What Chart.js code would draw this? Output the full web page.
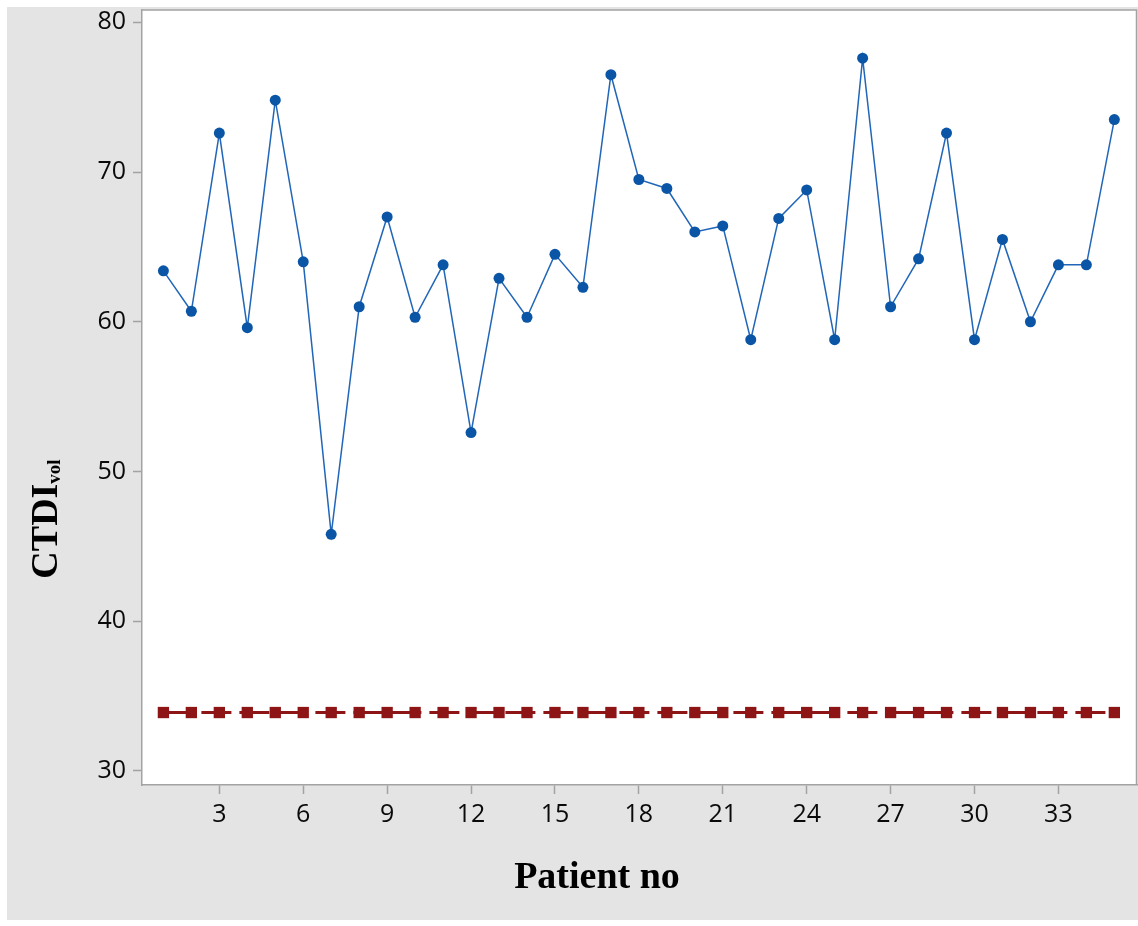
<!DOCTYPE html>
<html>
<head>
<meta charset="utf-8">
<script src="https://cdn.jsdelivr.net/npm/chart.js@4"></script>
<style>
  body { margin: 0; background: #fff; }
  canvas { display: block; }
</style>
</head>
<body>
<canvas id="ctdiChart" width="1138" height="926"></canvas>
<script>
const patients = [1, 2, 3, 4, 5, 6, 7, 8, 9, 10, 11, 12, 13, 14, 15, 16, 17, 18,
  19, 20, 21, 22, 23, 24, 25, 26, 27, 28, 29, 30, 31, 32, 33, 34, 35];
const ctdiVol = [63.4, 60.7, 72.6, 59.6, 74.8, 64.0, 45.8, 61.0, 67.0, 60.3,
  63.8, 52.6, 62.9, 60.3, 64.5, 62.3, 76.5, 69.5, 68.9, 66.0, 66.4, 58.8,
  66.9, 68.8, 58.8, 77.6, 61.0, 64.2, 72.6, 58.8, 65.5, 60.0, 63.8, 63.8, 73.5];
const referenceLevel = [33.9, 33.9, 33.9, 33.9, 33.9, 33.9, 33.9, 33.9, 33.9,
  33.9, 33.9, 33.9, 33.9, 33.9, 33.9, 33.9, 33.9, 33.9, 33.9, 33.9, 33.9, 33.9,
  33.9, 33.9, 33.9, 33.9, 33.9, 33.9, 33.9, 33.9, 33.9, 33.9, 33.9, 33.9, 33.9];
const xTicks = [3, 6, 9, 12, 15, 18, 21, 24, 27, 30, 33];
const yTicks = [30, 40, 50, 60, 70, 80];

const axisGray = "#a3a3a3";

// gray panel behind everything + white plot area + frame + custom axis titles
const panelPlugin = {
  id: "panel",
  beforeDraw(chart) {
    const { ctx, chartArea } = chart;
    ctx.save();
    ctx.fillStyle = "#e4e4e4";
    ctx.fillRect(7, 7, chart.width - 7, 913);
    ctx.fillStyle = "#ffffff";
    ctx.fillRect(chartArea.left, chartArea.top,
      chartArea.right - chartArea.left, chartArea.bottom - chartArea.top);
    ctx.restore();
  },
  afterDraw(chart) {
    const { ctx, chartArea } = chart;
    ctx.save();
    ctx.strokeStyle = axisGray;
    ctx.lineWidth = 1.5;
    ctx.beginPath();
    ctx.moveTo(chartArea.left, chartArea.top);
    ctx.lineTo(chartArea.right - 0.5, chartArea.top);
    ctx.lineTo(chartArea.right - 0.5, chartArea.bottom);
    ctx.stroke();

    ctx.fillStyle = "#000";
    ctx.textAlign = "center";
    ctx.textBaseline = "alphabetic";
    ctx.font = 'bold 38px "Liberation Serif"';
    ctx.fillText("Patient no", 597, 888);

    // CTDI with subscript vol, rotated
    ctx.translate(57, 519);
    ctx.rotate(-Math.PI / 2);
    ctx.textAlign = "left";
    ctx.font = 'bold 38px "Liberation Serif"';
    const w1 = ctx.measureText("CTDI").width;
    ctx.font = 'bold 19px "Liberation Serif"';
    const w2 = ctx.measureText("vol").width;
    const start = -(w1 + w2) / 2;
    ctx.font = 'bold 38px "Liberation Serif"';
    ctx.fillText("CTDI", start, 0);
    ctx.font = 'bold 19px "Liberation Serif"';
    ctx.fillText("vol", start + w1, 3);
    ctx.restore();
  },
};

function noScalePadding(scale) {
  scale.paddingTop = 0;
  scale.paddingBottom = 0;
  scale.paddingLeft = 0;
  scale.paddingRight = 0;
}

const ctx = document.getElementById("ctdiChart").getContext("2d");
const chart = new Chart(ctx, {
  type: "line",
  data: {
    datasets: [
      {
        label: "CTDIvol",
        data: patients.map((p, i) => ({ x: p, y: ctdiVol[i] })),
        borderColor: "#2166b8",
        borderWidth: 1.5,
        pointStyle: "circle",
        pointRadius: 5.5,
        pointBackgroundColor: "#0a55a5",
        pointBorderColor: "#0a55a5",
        pointBorderWidth: 0,
        tension: 0,
      },
      {
        label: "Reference",
        data: patients.map((p, i) => ({ x: p, y: referenceLevel[i] })),
        borderColor: "#8e1515",
        borderWidth: 3,
        borderDash: [30, 8],
        pointStyle: "rect",
        pointRadius: 8,
        pointBackgroundColor: "#8e1515",
        pointBorderColor: "#8e1515",
        pointBorderWidth: 0,
        tension: 0,
      },
    ],
  },
  options: {
    responsive: false,
    animation: false,
    layout: {
      autoPadding: false,
      padding: { left: 0, top: 10, right: 1, bottom: 0 },
    },
    plugins: {
      legend: { display: false },
      tooltip: { enabled: false },
    },
    scales: {
      x: {
        type: "linear",
        min: 0.235,
        max: 35.81,
        afterBuildTicks: (scale) => {
          scale.ticks = xTicks.map((v) => ({ value: v }));
        },
        afterFit: (scale) => {
          scale.height = 141;
          noScalePadding(scale);
        },
        grid: {
          display: true,
          drawOnChartArea: false,
          drawTicks: true,
          tickLength: 9,
          tickWidth: 1.5,
          tickColor: axisGray,
        },
        border: { display: true, color: axisGray, width: 1.5 },
        ticks: {
          color: "#0a0a0a",
          padding: 6,
          maxRotation: 0,
          autoSkip: false,
          font: { family: '"Open Sans"', size: 25, weight: "500" },
        },
      },
      y: {
        type: "linear",
        min: 29.06,
        max: 80.82,
        afterBuildTicks: (scale) => {
          scale.ticks = yTicks.map((v) => ({ value: v }));
        },
        afterFit: (scale) => {
          scale.width = 142;
          noScalePadding(scale);
        },
        grid: {
          display: true,
          drawOnChartArea: false,
          drawTicks: true,
          tickLength: 9,
          tickWidth: 1.5,
          tickColor: axisGray,
        },
        border: { display: true, color: axisGray, width: 1.5 },
        ticks: {
          color: "#0a0a0a",
          padding: 7,
          autoSkip: false,
          font: { family: '"Open Sans"', size: 25, weight: "500" },
        },
      },
    },
  },
  plugins: [panelPlugin],
});
</script>
</body>
</html>
